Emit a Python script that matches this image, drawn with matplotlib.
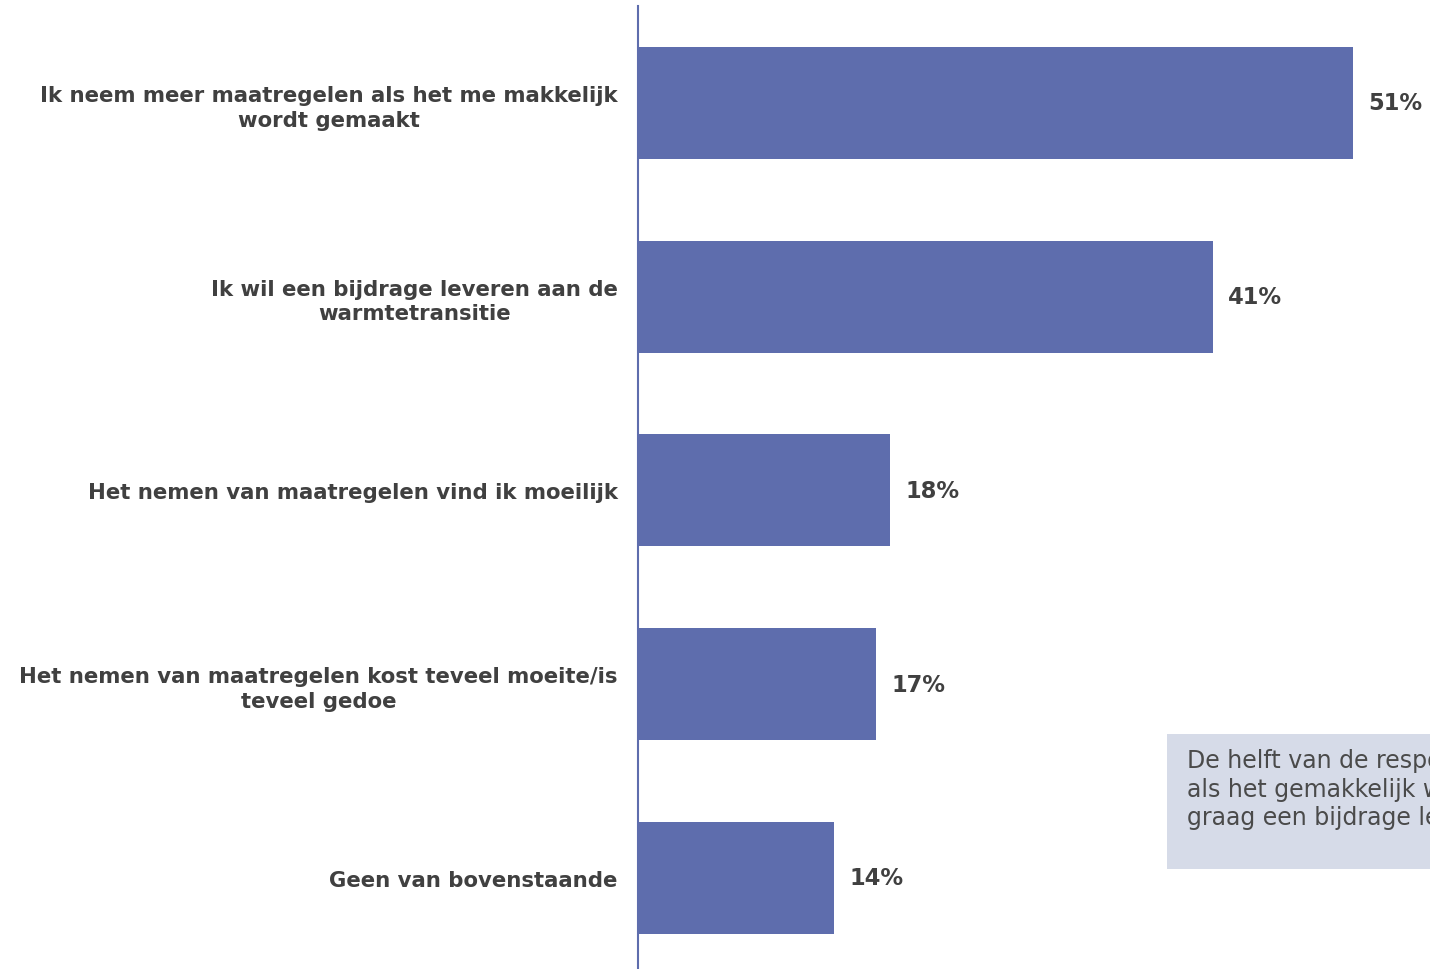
import matplotlib
matplotlib.use("Agg")
import matplotlib.pyplot as plt
from matplotlib.patches import Rectangle

categories = [
    "Ik neem meer maatregelen als het me makkelijk\nwordt gemaakt",
    "Ik wil een bijdrage leveren aan de\nwarmtetransitie",
    "Het nemen van maatregelen vind ik moeilijk",
    "Het nemen van maatregelen kost teveel moeite/is\nteveel gedoe",
    "Geen van bovenstaande",
]
values = [51, 41, 18, 17, 14]
value_labels = ["51%", "41%", "18%", "17%", "14%"]
note = ("De helft van de respondenten neemt meer maatregelen\n"
        "als het gemakkelijk wordt gemaakt en wil\n"
        "graag een bijdrage leveren aan de warmtetransitie.")

bar_color = "#5e6dad"
text_color = "#404040"

fig = plt.figure(figsize=(14.3, 9.7), dpi=100)
ax = fig.add_axes([638 / 1430, 0.0, 792 / 1430, 1 - 7 / 970])

ypos = list(range(len(categories)))
ax.barh(ypos, values, height=0.578, color=bar_color)
ax.set_xlim(0, 56.5)
ax.set_ylim(4.47, -0.5)

for y, v, lab in zip(ypos, values, value_labels):
    ax.text(v + 1.1, y, lab, va="center", ha="left", fontsize=16.3,
            fontweight="bold", color=text_color)

ax.set_yticks(ypos)
ax.set_yticklabels(categories, fontsize=15.3, fontweight="bold",
                   color=text_color, ha="right", multialignment="center",
                   linespacing=1.3)
ax.tick_params(axis="y", length=0, pad=14.5)
ax.set_xticks([])
for s in ["top", "right", "bottom"]:
    ax.spines[s].set_visible(False)
ax.spines["left"].set_color(bar_color)
ax.spines["left"].set_linewidth(1.5)

# annotation box, cut off by the figure edge as in the original
fig.patches.append(Rectangle((1167 / 1430, 1 - 870 / 970), 0.3, 135 / 970,
                             transform=fig.transFigure, facecolor="#d6dbe8",
                             edgecolor="none", zorder=0))
fig.text(1187 / 1430, 1 - 749 / 970, note, ha="left", va="top", fontsize=17,
         color="#4a4a4a", linespacing=1.25)

fig.savefig("out.png", dpi=100)
